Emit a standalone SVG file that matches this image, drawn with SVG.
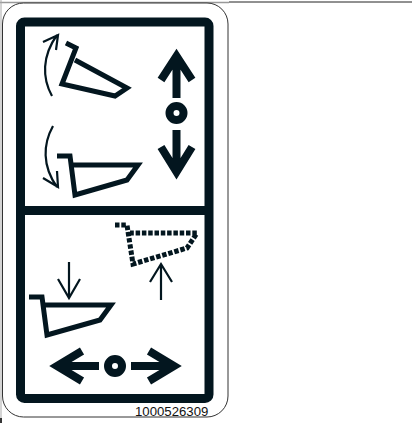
<svg xmlns="http://www.w3.org/2000/svg" width="412" height="423" viewBox="0 0 412 423">
<style>
.k{fill:none;stroke:#03161f;stroke-linejoin:miter;stroke-linecap:butt}
.b{stroke-width:5}
.a{stroke-width:8}
.t{stroke-width:2.200}
.d{stroke-dasharray:4.5 1.8}
text{font-family:"Liberation Sans",Arial,sans-serif;font-size:13.2px;fill:#111}
</style>
<rect width="412" height="423" fill="#fff"/>
<g id="sheet">
<path d="M0,2.5H229" fill="none" stroke="#999" stroke-width="1.5"/>
<path d="M229,2H412" fill="none" stroke="#222" stroke-width="1"/>
<path d="M1,0V423" fill="none" stroke="#aaa" stroke-width="1"/>
<path d="M1,418V423" fill="none" stroke="#000" stroke-width="1.5"/>
<rect x="2.500" y="3" width="225.500" height="414" rx="21" fill="#fff" stroke="#333" stroke-width="1"/>
</g>
<g id="frame">
<rect x="20.500" y="22" width="188.500" height="376.500" rx="4" class="k" style="stroke-width:9"/>
<path d="M20,210.500H209" class="k" style="stroke-width:9"/>
</g>
<g id="bucket-raised"><path class="k b" d="M66,43L76,48L62,84L115,96L127,88L75,60"/></g>
<g id="bucket-level"><path class="k b" d="M57,156H70L75,195L127,180L138,165H72"/></g>
<g id="bucket-lower"><path class="k b" d="M29,297H42L47,335L100,320L111,305H45"/></g>
<g id="bucket-dashed"><path class="k b d" d="M115,225H127L133,264L187,248L197,233H130"/></g>
<g id="joystick-vertical">
<circle cx="176.500" cy="113" r="7" class="k a"/>
<path class="k a" d="M176.500,98V56M161,80L176.500,56L192,80"/>
<path class="k a" d="M176.500,130V172M161,147L176.500,172L192,147"/>
</g>
<g id="joystick-horizontal">
<circle cx="115" cy="366" r="7" class="k a"/>
<path class="k a" d="M99,366H57M82,351L57,366L82,381"/>
<path class="k a" d="M131,366H174M149,351L174,366L149,381"/>
</g>
<g id="connectors">
<path class="k t" d="M52,96C42,78 42,56 57,35M43,42L58,35L56,50"/>
<path class="k t" d="M53,126C43,144 42,166 57,187M43,178L58,187L57,171"/>
<path class="k t" d="M69,262V298M58,279L69,298L80,279"/>
<path class="k t" d="M161,300V264M150,282L161,264L172,282"/>
</g>
<text x="135" y="415.500">1000526309</text>
</svg>
